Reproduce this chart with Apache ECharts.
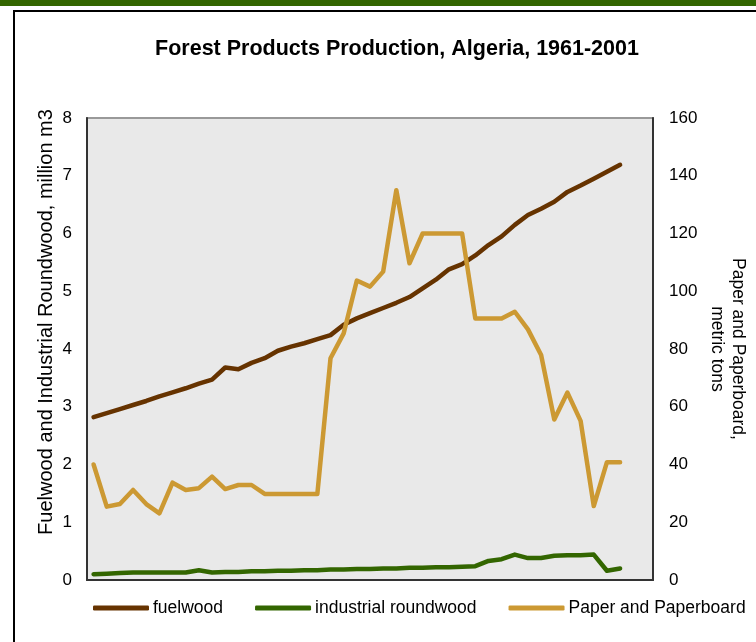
<!DOCTYPE html>
<html>
<head>
<meta charset="utf-8">
<script src="https://cdn.jsdelivr.net/npm/echarts@6/dist/echarts.min.js"></script>
<style>
html,body{margin:0;padding:0;background:#fff;}
#chart{width:756px;height:642px;}
</style>
</head>
<body>
<div id="chart"></div>
<script>
var years = [];
for (var y = 1961; y <= 2003; y++) years.push(String(y));

var fuelwood = [2.82, 2.89, 2.96, 3.03, 3.10, 3.18, 3.25, 3.32, 3.40, 3.47,
  3.68, 3.65, 3.76, 3.84, 3.97, 4.04, 4.10, 4.17, 4.24, 4.42,
  4.53, 4.62, 4.71, 4.80, 4.90, 5.05, 5.20, 5.38, 5.47, 5.62,
  5.80, 5.95, 6.15, 6.32, 6.43, 6.55, 6.72, 6.83, 6.95, 7.07, 7.19];

var industrialRoundwood = [0.10, 0.11, 0.12, 0.13, 0.13, 0.13, 0.13, 0.13, 0.17, 0.13,
  0.14, 0.14, 0.15, 0.15, 0.16, 0.16, 0.17, 0.17, 0.18, 0.18,
  0.19, 0.19, 0.20, 0.20, 0.21, 0.21, 0.22, 0.22, 0.23, 0.24,
  0.33, 0.36, 0.44, 0.38, 0.38, 0.42, 0.43, 0.43, 0.44, 0.16, 0.20];

var paper = [40, 25.4, 26.3, 31.2, 26.3, 23.1, 33.7, 31.2, 31.8, 35.8,
  31.5, 32.9, 32.9, 29.8, 29.8, 29.8, 29.8, 29.8, 76.8, 85.4,
  103.7, 101.6, 106.8, 135, 109.7, 120, 120, 120, 120, 90.6,
  90.6, 90.6, 92.9, 86.8, 77.9, 55.6, 64.9, 55.1, 25.6, 40.8, 40.8];

var leftTicks = {min: 0, max: 8, interval: 1};
var rightTicks = {min: 0, max: 160, interval: 20};

var FONT = "'Liberation Sans', Arial, sans-serif";
var chart = echarts.init(document.getElementById('chart'), null, {renderer: 'canvas'});
chart.setOption({
  animation: false,
  backgroundColor: '#ffffff',
  textStyle: {fontFamily: FONT},
  graphic: [
    {type: 'rect', shape: {x: 0, y: 0, width: 756, height: 6}, style: {fill: '#336600'}, z: 0},
    {type: 'rect', shape: {x: 14, y: 11, width: 800, height: 700}, style: {fill: 'none', stroke: '#000', lineWidth: 2}, z: 0}
  ],
  title: {
    text: 'Forest Products Production, Algeria, 1961-2001',
    left: 392, top: 33, textAlign: 'center',
    textStyle: {fontFamily: FONT, fontSize: 21.5, fontWeight: 'bold', color: '#000'}
  },
  legend: {
    left: 93, top: 599, width: 700, padding: 0,
    icon: 'roundRect', itemWidth: 56, itemHeight: 5, itemGap: 32,
    textStyle: {fontFamily: FONT, fontSize: 17.5, color: '#000', padding: [0, 0, 0, -1]},
    data: ['fuelwood', 'industrial roundwood', 'Paper and Paperboard']
  },
  grid: {
    left: 87, right: 103, top: 118, bottom: 62,
    outerBoundsMode: 'none', containLabel: false,
    show: true, backgroundColor: '#e9e9e9', borderColor: '#999', borderWidth: 2
  },
  xAxis: {
    type: 'category', data: years, boundaryGap: true,
    axisLine: {show: true, lineStyle: {color: '#333', width: 2}},
    axisTick: {show: false}, axisLabel: {show: false}, splitLine: {show: false}
  },
  yAxis: [
    {
      type: 'value', min: leftTicks.min, max: leftTicks.max, interval: leftTicks.interval,
      name: 'Fuelwood and Industrial Roundwood, million m3',
      nameLocation: 'middle', nameGap: 31, nameRotate: 90, nameMoveOverlap: false,
      nameTextStyle: {fontFamily: FONT, fontSize: 20, color: '#000', padding: [0, 0, 0, 54]},
      axisLine: {show: true, lineStyle: {color: '#333', width: 2}},
      axisTick: {show: false}, splitLine: {show: false},
      axisLabel: {fontFamily: FONT, fontSize: 17, color: '#000', margin: 15}
    },
    {
      type: 'value', min: rightTicks.min, max: rightTicks.max, interval: rightTicks.interval,
      position: 'right',
      name: 'Paper and Paperboard,\nmetric tons',
      nameLocation: 'middle', nameGap: 53, nameRotate: -90, nameMoveOverlap: false,
      nameTextStyle: {fontFamily: FONT, fontSize: 17.5, color: '#000', lineHeight: 21},
      axisLine: {show: true, lineStyle: {color: '#333', width: 2}},
      axisTick: {show: false}, splitLine: {show: false},
      axisLabel: {fontFamily: FONT, fontSize: 17, color: '#000', margin: 16}
    }
  ],
  series: [
    {name: 'fuelwood', type: 'line', data: fuelwood, yAxisIndex: 0, symbol: 'none',
      color: '#663300', lineStyle: {width: 4.5, color: '#663300', cap: 'round', join: 'round'}},
    {name: 'industrial roundwood', type: 'line', data: industrialRoundwood, yAxisIndex: 0, symbol: 'none',
      color: '#336600', lineStyle: {width: 4.5, color: '#336600', cap: 'round', join: 'round'}},
    {name: 'Paper and Paperboard', type: 'line', data: paper, yAxisIndex: 1, symbol: 'none',
      color: '#cc9933', lineStyle: {width: 4.5, color: '#cc9933', cap: 'round', join: 'round'}}
  ]
});
</script>
</body>
</html>
